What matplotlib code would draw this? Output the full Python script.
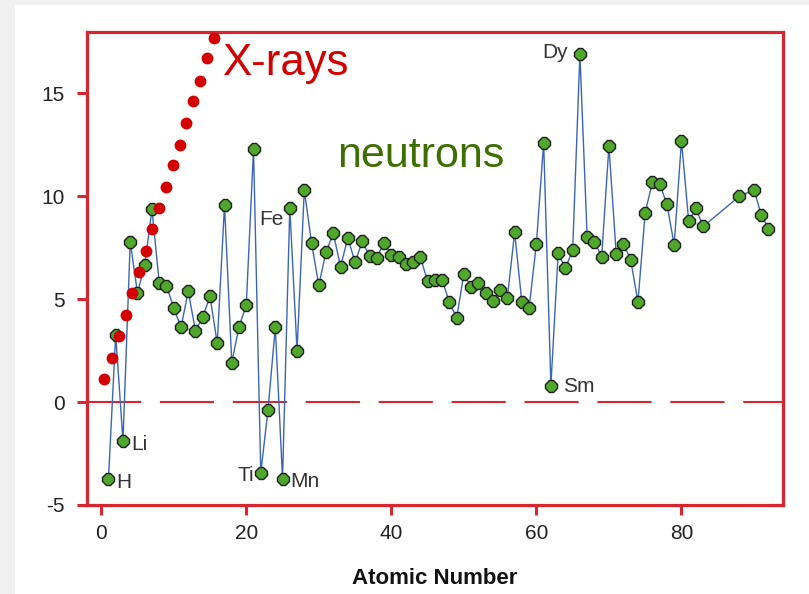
import matplotlib
matplotlib.use("Agg")
import matplotlib.pyplot as plt
from matplotlib.patches import Rectangle

plt.rcParams["font.family"] = ["Liberation Sans", "DejaVu Sans"]
plt.rcParams["axes.unicode_minus"] = False

# neutron coherent scattering lengths (fm) vs atomic number
atomic_number = [
    1, 2, 3, 4, 5, 6, 7, 8, 9, 10, 11, 12, 13, 14, 15, 16, 17, 18, 19, 20,
    21, 22, 23, 24, 25, 26, 27, 28, 29, 30, 31, 32, 33, 34, 35, 36, 37, 38, 39, 40,
    41, 42, 43, 44, 45, 46, 47, 48, 49, 50, 51, 52, 53, 54, 55, 56, 57, 58, 59, 60,
    61, 62, 63, 64, 65, 66, 67, 68, 69, 70, 71, 72, 73, 74, 75, 76, 77, 78, 79, 80,
    81, 82, 83, 88, 90, 91, 92,
]
neutron_b = [
    -3.74, 3.26, -1.90, 7.79, 5.30, 6.65, 9.36, 5.80, 5.65, 4.57,
    3.63, 5.38, 3.45, 4.15, 5.13, 2.85, 9.58, 1.91, 3.67, 4.70,
    12.29, -3.44, -0.38, 3.64, -3.73, 9.45, 2.49, 10.30, 7.72, 5.68,
    7.29, 8.19, 6.58, 7.97, 6.80, 7.81, 7.09, 7.02, 7.75, 7.16,
    7.05, 6.72, 6.80, 7.03, 5.88, 5.91, 5.92, 4.87, 4.07, 6.23,
    5.57, 5.80, 5.28, 4.92, 5.42, 5.07, 8.24, 4.84, 4.58, 7.69,
    12.60, 0.80, 7.22, 6.50, 7.38, 16.90, 8.01, 7.79, 7.07, 12.43,
    7.21, 7.70, 6.91, 4.86, 9.20, 10.70, 10.60, 9.60, 7.63, 12.69,
    8.78, 9.41, 8.53, 10.00, 10.31, 9.10, 8.42,
]

# x-ray dots as drawn in the figure
xray_z = [0.45, 1.46, 2.42, 3.38, 4.29, 5.2, 6.16, 7.07, 7.98, 8.9,
          9.9, 10.8, 11.7, 12.7, 13.6, 14.55, 15.5]
xray_b = [1.14, 2.16, 3.20, 4.24, 5.28, 6.31, 7.35, 8.39, 9.41, 10.45,
          11.5, 12.5, 13.56, 14.6, 15.6, 16.7, 17.7]

# element labels: (Z, symbol, pixel offset, alignment)
labels = [
    (1, "H", (8, -3), "left"),
    (3, "Li", (8, -3), "left"),
    (22, "Ti", (-7, -3), "right"),
    (25, "Mn", (8, -3), "left"),
    (26, "Fe", (-6, -12), "right"),
    (66, "Dy", (-12, 2), "right"),
    (62, "Sm", (12, -1), "left"),
]

RED = "#d7262f"

fig = plt.figure(figsize=(8.09, 5.94), dpi=100)
fig.patch.set_facecolor("white")
fig.patches.append(Rectangle((0, 0), 15 / 809, 1, transform=fig.transFigure,
                             facecolor="#f1f1f1", edgecolor="none", zorder=-5))
fig.patches.append(Rectangle((0, 1 - 5 / 594), 1, 5 / 594, transform=fig.transFigure,
                             facecolor="#f1f1f1", edgecolor="none", zorder=-5))

ax = fig.add_axes([86.7 / 809, 89 / 594, 696.3 / 809, 473.5 / 594])
ax.set_xlim(-2, 94)
ax.set_ylim(-5, 18)

ax.axhline(0, color=RED, lw=1.5, dashes=(26, 9), zorder=1)

ax.plot(atomic_number, neutron_b, color="#3a66b4", lw=1.0, zorder=2,
        marker="8", markersize=9, markerfacecolor="#4fa82c",
        markeredgecolor="#1e1e1e", markeredgewidth=1.0)

ax.plot(xray_z, xray_b, linestyle="none", marker="o", markersize=7.5,
        color="#d40000", zorder=4, clip_on=False)

for z, sym, off, ha in labels:
    b = neutron_b[atomic_number.index(z)]
    ax.annotate(sym, (z, b), xytext=off, textcoords="offset pixels",
                ha=ha, va="center", fontsize=15, color="#333333")

ax.text(16.7, 15.9, "X-rays", color="#d40000", fontsize=31.5, va="baseline", ha="left")
ax.text(32.5, 11.43, "neutrons", color="#3d6e00", fontsize=31, va="baseline", ha="left")

for sp in ax.spines.values():
    sp.set_color(RED)
    sp.set_linewidth(2.3)

ax.set_xticks([0, 20, 40, 60, 80])
ax.set_yticks([-5, 0, 5, 10, 15])
ax.tick_params(axis="both", direction="out", color=RED, width=2.2,
               labelsize=15, labelcolor="#222222")
ax.tick_params(axis="y", length=7, pad=9)
ax.tick_params(axis="x", length=7, pad=7)

fig.text(435 / 809, 1 - 578 / 594, "Atomic Number", ha="center", va="center",
         fontsize=16, weight="bold", color="#111111")

fig.savefig("out.png", dpi=100)
